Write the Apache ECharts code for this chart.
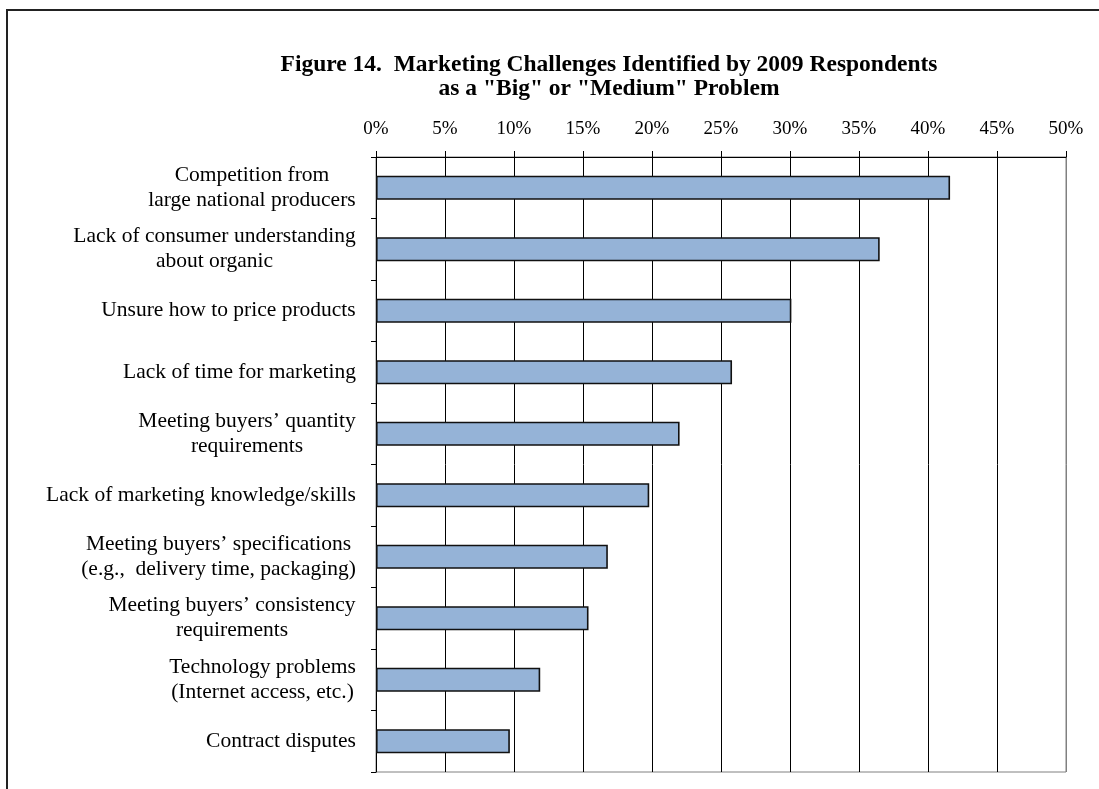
<!DOCTYPE html>
<html>
<head>
<meta charset="utf-8">
<script src="https://cdn.jsdelivr.net/npm/echarts@6/dist/echarts.min.js"></script>
<style>html,body{margin:0;padding:0;background:#fff;}#c{width:1099px;height:789px;}</style>
</head>
<body>
<div id="c"></div>
<script>
const titleText = 'Figure 14.  Marketing Challenges Identified by 2009 Respondents\nas a "Big" or "Medium" Problem';
const categories = [
  "Competition from\nlarge national producers",
  "Lack of consumer understanding\nabout organic",
  "Unsure how to price products",
  "Lack of time for marketing",
  "Meeting buyers\u2019 quantity\nrequirements",
  "Lack of marketing knowledge/skills",
  "Meeting buyers\u2019 specifications\n(e.g.,  delivery time, packaging)",
  "Meeting buyers\u2019 consistency\nrequirements",
  "Technology problems\n(Internet access, etc.)",
  "Contract disputes"
];
const values = [41.6, 36.5, 30.1, 25.8, 22.0, 19.8, 16.8, 15.4, 11.9, 9.7];
const xMin = 0, xMax = 50, xStep = 5;

const FONT = '"Liberation Serif", "Times New Roman", serif';
const labelSize = 21.5;
const ctx = document.createElement('canvas').getContext('2d');
ctx.font = labelSize + 'px ' + FONT;
const rich = {};
categories.forEach((c, i) => {
  const w = Math.max(...c.split('\n').map(s => ctx.measureText(s).width));
  rich['c' + i] = {width: Math.ceil(w), align: 'center', fontSize: labelSize, fontFamily: FONT, color: '#000', lineHeight: 25};
});

const chart = echarts.init(document.getElementById('c'));
const splitColors = [];
for (let v = xMin; v <= xMax; v += xStep) splitColors.push(v === xMax ? '#808080' : '#000');

chart.setOption({
  animation: false,
  backgroundColor: '#fff',
  title: {
    text: titleText,
    left: 604, top: 48, textAlign: 'center',
    textStyle: {fontFamily: FONT, fontWeight: 'bold', fontSize: 23.5, lineHeight: 24, color: '#000'}
  },
  graphic: [{
    type: 'rect', silent: true, z: -1,
    shape: {x: 7, y: 10, width: 1300, height: 1000},
    style: {fill: 'none', stroke: '#222', lineWidth: 2}
  }],
  grid: {left: 376, right: 33, top: 157, bottom: 17, show: true, borderColor: '#808080', borderWidth: 1, containLabel: false},
  xAxis: {
    type: 'value', position: 'top', min: xMin, max: xMax, interval: xStep,
    axisLine: {show: true, lineStyle: {color: '#000', width: 1}},
    axisTick: {show: true, inside: false, length: 6, lineStyle: {color: '#000'}},
    axisLabel: {formatter: '{value}%', margin: 18, fontFamily: FONT, fontSize: 19, color: '#000'},
    splitLine: {show: true, lineStyle: {color: splitColors, width: 1}}
  },
  yAxis: {
    type: 'category', data: categories, inverse: true,
    axisLine: {show: true, lineStyle: {color: '#000', width: 1}},
    axisTick: {show: true, length: 5, lineStyle: {color: '#000'}},
    axisLabel: {
      margin: 20, align: 'right',
      formatter: (v, i) => '{c' + i + '|' + v + '}',
      rich: rich
    },
    splitLine: {show: false}
  },
  series: [{
    type: 'bar', data: values, barCategoryGap: '61%',
    itemStyle: {color: '#95B3D7', borderColor: '#111', borderWidth: 1.6}
  }]
});
</script>
</body>
</html>
